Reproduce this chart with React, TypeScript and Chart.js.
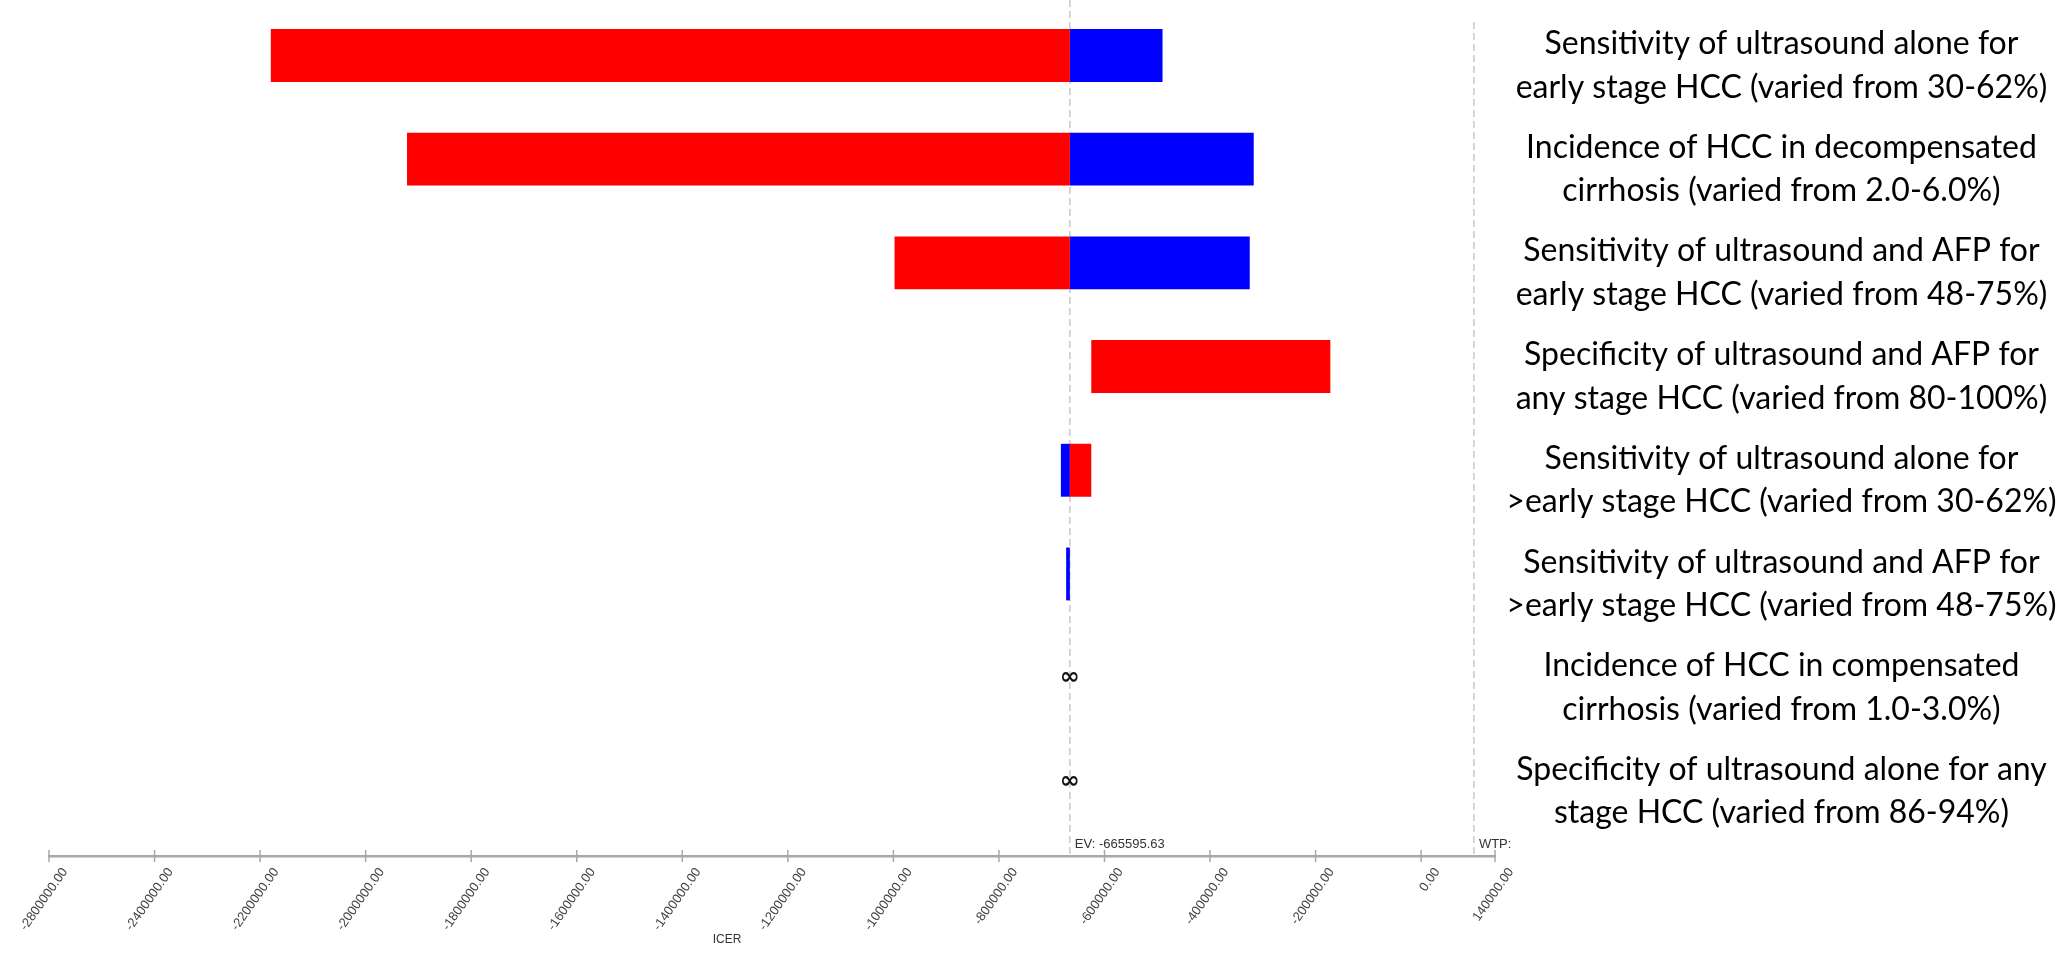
import React, { useEffect, useRef } from 'react';
import { Chart, registerables } from 'chart.js';

Chart.register(...registerables);

// ---- data ----
const parameterLabels: string[][] = [
  ['Sensitivity of ultrasound alone for', 'early stage HCC (varied from 30-62%)'],
  ['Incidence of HCC in decompensated', 'cirrhosis (varied from 2.0-6.0%)'],
  ['Sensitivity of ultrasound and AFP for', 'early stage HCC (varied from 48-75%)'],
  ['Specificity of ultrasound and AFP for', 'any stage HCC (varied from 80-100%)'],
  ['Sensitivity of ultrasound alone for', '>early stage HCC (varied from 30-62%)'],
  ['Sensitivity of ultrasound and AFP for', '>early stage HCC (varied from 48-75%)'],
  ['Incidence of HCC in compensated', 'cirrhosis (varied from 1.0-3.0%)'],
  ['Specificity of ultrasound alone for any', 'stage HCC (varied from 86-94%)'],
];

const EV = -665595.63;
const WTP = 100000;

// red segment (start, end) per parameter
const redStart: (number | null)[] = [-2179700, -1921600, -997800, -625000, EV, null, null, null];
const redEnd: (number | null)[] = [EV, EV, EV, -172000, -625000, null, null, null];
// blue segment (start, end) per parameter
const blueStart: (number | null)[] = [EV, EV, EV, null, -682600, -672600, null, null];
const blueEnd: (number | null)[] = [-490000, -317200, -324700, null, EV, EV, null, null];
// parameters whose ICER is infinite
const infiniteRows: number[] = [6, 7];

const tickValues: number[] = [
  -2600000, -2400000, -2200000, -2000000, -1800000, -1600000, -1400000,
  -1200000, -1000000, -800000, -600000, -400000, -200000, 0, 140000,
];
const tickLabels: string[] = [
  '-2800000.00', '-2400000.00', '-2200000.00', '-2000000.00', '-1800000.00', '-1600000.00', '-1400000.00',
  '-1200000.00', '-1000000.00', '-800000.00', '-600000.00', '-400000.00', '-200000.00', '0.00', '140000.00',
];
const xMin = -2600000;
const xMax = 140000;
const axisTitle = 'ICER';

const LABEL_FONT = 'Lato, "Open Sans", sans-serif';
const LABEL_SIZE = 32;
const TICK_FONT = '"Liberation Sans", Arial, sans-serif';

function segments(starts: (number | null)[], ends: (number | null)[]) {
  const out: { x: [number, number]; y: number }[] = [];
  starts.forEach((s, i) => {
    const e = ends[i];
    if (s !== null && e !== null) out.push({ x: [s, e], y: i });
  });
  return out;
}

const overlayPlugin = {
  id: 'tornadoOverlay',
  beforeDatasetsDraw(chart: any) {
    const { ctx, chartArea, scales } = chart;
    const x = scales.x;
    ctx.save();
    ctx.strokeStyle = '#c9c9c9';
    ctx.lineWidth = 1.5;
    ctx.setLineDash([7, 4]);
    const evX = x.getPixelForValue(EV);
    ctx.beginPath();
    ctx.moveTo(evX, chartArea.top);
    ctx.lineTo(evX, chartArea.bottom);
    ctx.stroke();
    const wX = x.getPixelForValue(WTP);
    ctx.beginPath();
    ctx.moveTo(wX, chartArea.top + 22);
    ctx.lineTo(wX, chartArea.bottom);
    ctx.stroke();
    ctx.restore();
  },
  afterDraw(chart: any) {
    const { ctx, chartArea, scales } = chart;
    const x = scales.x;
    const y = scales.y;
    ctx.save();
    // crossing tick marks
    ctx.strokeStyle = '#a8a8a8';
    ctx.lineWidth = 1.5;
    tickValues.forEach((v) => {
      const px = x.getPixelForValue(v);
      ctx.beginPath();
      ctx.moveTo(px, chartArea.bottom - 6);
      ctx.lineTo(px, chartArea.bottom + 6);
      ctx.stroke();
    });
    // EV and WTP labels
    ctx.fillStyle = '#333';
    ctx.font = '13px ' + TICK_FONT;
    ctx.textAlign = 'left';
    ctx.textBaseline = 'bottom';
    const evX = x.getPixelForValue(EV);
    ctx.fillText('EV: ' + EV.toFixed(2), evX + 5, chartArea.bottom - 5);
    const wX = x.getPixelForValue(WTP);
    ctx.fillText('WTP:', wX + 5, chartArea.bottom - 5);
    // axis title
    ctx.font = '12px ' + TICK_FONT;
    ctx.textAlign = 'center';
    ctx.textBaseline = 'middle';
    ctx.fillText(axisTitle, (chartArea.left + chartArea.right) / 2 - 45, chartArea.bottom + 84);
    // infinity symbols
    ctx.fillStyle = '#111';
    ctx.font = 'bold 24px "DejaVu Sans", sans-serif';
    infiniteRows.forEach((r) => {
      ctx.fillText('\u221E', evX, y.getPixelForValue(r));
    });
    ctx.restore();
  },
};

export default function App() {
  const canvasRef = useRef<HTMLCanvasElement | null>(null);

  useEffect(() => {
    document.body.style.margin = '0';
    const canvas = canvasRef.current;
    if (!canvas) return;
    const yMin = -0.535;
    const yMax = 7.72;
    const labelsAxisWidth = 573;
    // measure the widest label line so labels can be centred in the right-hand column
    const mctx = canvas.getContext('2d') as CanvasRenderingContext2D;
    mctx.font = `${LABEL_SIZE}px ${LABEL_FONT}`;
    let widest = 0;
    parameterLabels.forEach((lines) => lines.forEach((l) => { widest = Math.max(widest, mctx.measureText(l).width); }));
    const labelPadding = Math.max(0, labelsAxisWidth / 2 - widest / 2);

    const rowTicks = (scale: any) => {
      scale.ticks = parameterLabels.map((_, i) => ({ value: i }));
    };
    const chart = new Chart(canvas, {
      type: 'bar',
      data: {
        datasets: [
          {
            label: 'high',
            data: segments(redStart, redEnd) as any,
            backgroundColor: '#ff0000',
            borderWidth: 0,
          },
          {
            label: 'low',
            data: segments(blueStart, blueEnd) as any,
            backgroundColor: '#0000ff',
            borderWidth: 0,
          },
        ],
      },
      plugins: [overlayPlugin],
      options: {
        indexAxis: 'y',
        animation: false,
        responsive: false,
        devicePixelRatio: 1,
        grouped: false,
        categoryPercentage: 1,
        barPercentage: 0.51,
        layout: { padding: { left: 49, right: 0, top: 0, bottom: 0 } },
        plugins: {
          legend: { display: false },
          tooltip: { enabled: false },
        },
        scales: {
          x: {
            type: 'linear',
            position: 'bottom',
            offset: false,
            min: xMin,
            max: xMax,
            afterBuildTicks: (scale: any) => {
              scale.ticks = tickValues.map((v) => ({ value: v }));
            },
            afterFit: (scale: any) => {
              scale.height = 110;
              scale.paddingLeft = 0;
              scale.paddingRight = 0;
            },
            ticks: {
              autoSkip: false,
              minRotation: 55,
              maxRotation: 55,
              padding: 9,
              labelOffset: 16,
              color: '#444',
              font: { family: TICK_FONT, size: 13 },
              callback: (_v: any, i: number) => tickLabels[i],
            },
            grid: { display: false, drawTicks: false },
            border: { display: true, color: '#a8a8a8', width: 2.5 },
            title: { display: false },
          },
          y: {
            type: 'linear',
            position: 'left',
            reverse: true,
            offset: false,
            grace: 0,
            min: yMin,
            max: yMax,
            display: false,
            afterBuildTicks: rowTicks,
          },
          yLabels: {
            type: 'linear',
            position: 'right',
            reverse: true,
            offset: false,
            grace: 0,
            min: yMin,
            max: yMax,
            afterBuildTicks: rowTicks,
            afterFit: (scale: any) => {
              scale.width = labelsAxisWidth;
              scale.paddingTop = 0;
              scale.paddingBottom = 0;
            },
            grid: { display: false, drawTicks: false },
            border: { display: false },
            ticks: {
              crossAlign: 'center',
              labelOffset: 10,
              padding: labelPadding,
              color: '#000',
              font: { family: LABEL_FONT, size: LABEL_SIZE, lineHeight: 1.36 },
              callback: (v: any) => parameterLabels[Math.round(Number(v))] as any,
            },
          },
        },
      } as any,
    });
    return () => chart.destroy();
  }, []);

  return (
    <div style={{ width: 2068, height: 966, background: '#fff' }}>
      <canvas ref={canvasRef} width={2068} height={966} style={{ display: 'block', width: 2068, height: 966 }} />
    </div>
  );
}
